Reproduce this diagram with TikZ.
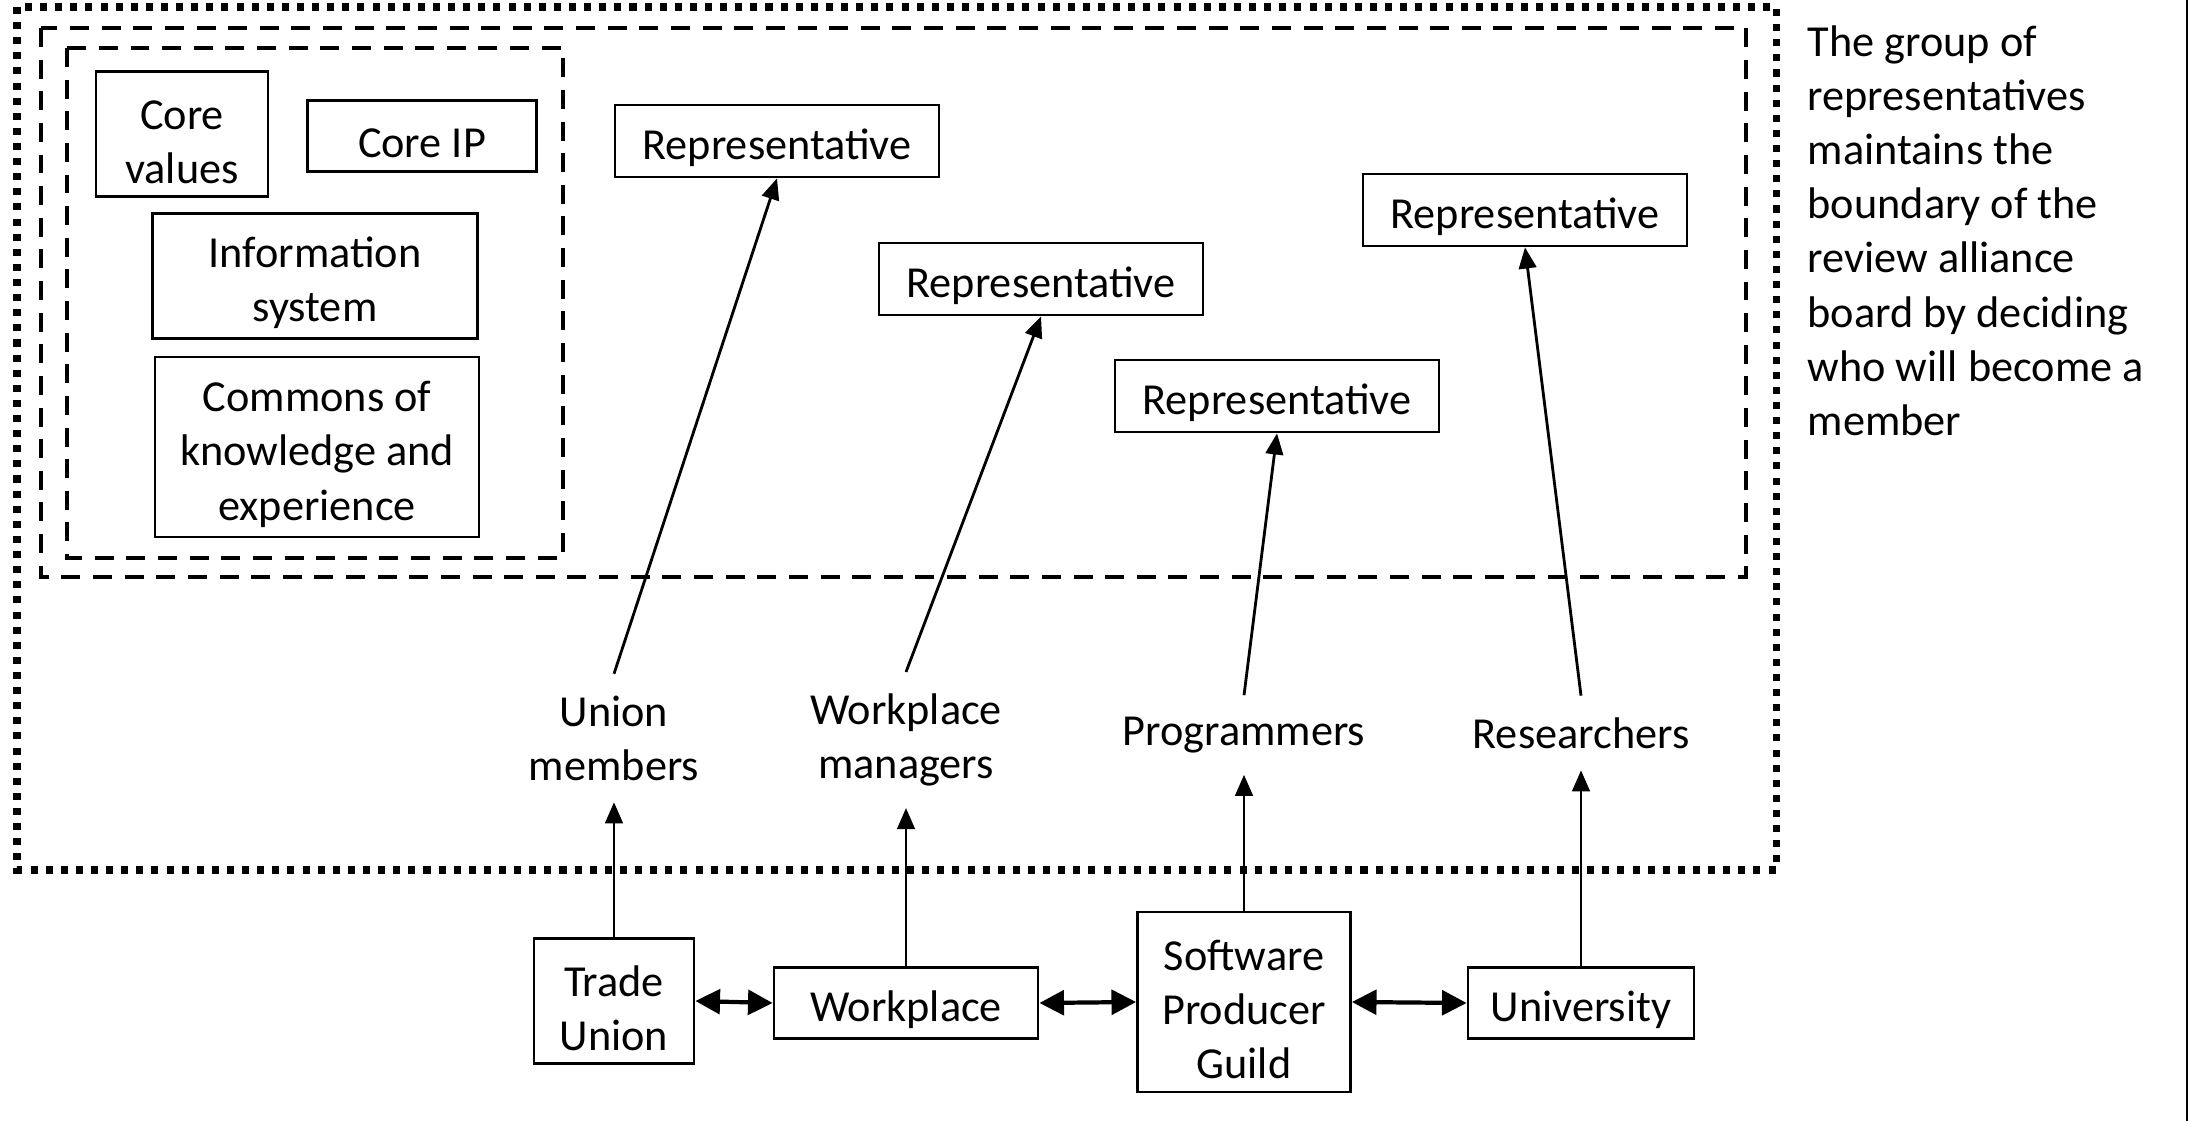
\documentclass[tikz,border=0pt]{standalone}
\usepackage{fontspec}
\setmainfont{Carlito}
\usepackage{tikz}
\usetikzlibrary{arrows.meta}

\begin{document}
\begin{tikzpicture}[
    font=\fontsize{12.6}{15.4}\selectfont,
    box/.style={draw, line width=0.8pt, align=center, inner sep=0pt,
        execute at begin node={\rule{0pt}{#1}}},
    box/.default=12.5pt,
    grp/.style={align=center, inner sep=6pt},
    up/.style={line width=0.8pt, -{Triangle[length=6pt, width=5pt]}},
    link/.style={line width=1.2pt, {Triangle[length=7pt, width=7pt]}-{Triangle[length=7pt, width=7pt]}},
    boardline/.style={line width=2pt, dash pattern=on 2pt off 2.3pt},
    ringline/.style={line width=1.1pt, dash pattern=on 5.4pt off 3.6pt}
]
            \useasboundingbox (0, 0) rectangle (22.03, -11.21);
            \draw[boardline] (0.17, -0.07) rectangle (17.76, -8.70);
            \draw[ringline] (0.41, -0.28) rectangle (17.46, -5.77);
            \draw[ringline] (0.67, -0.48) rectangle (5.63, -5.58);
            \draw[line width=0.8pt] (21.87, 0) -- (21.87, -11.21);
            % shared assets of the board
            \node[box=28.2pt, minimum width=1.72cm, minimum height=1.25cm] (values) at (1.82, -1.34) {Core\\values};
            \node[box, minimum width=2.29cm, minimum height=0.71cm] (coreip) at (4.22, -1.36) {Core IP};
            \node[box=28.2pt, minimum width=3.25cm, minimum height=1.25cm] (infosys) at (3.15, -2.76) {Information\\system};
            \node[box=43.6pt, minimum width=3.24cm, minimum height=1.80cm] (commons) at (3.17, -4.47) {Commons of\\knowledge and\\experience};
            % representatives
            \node[box, minimum width=3.24cm, minimum height=0.72cm] (rep1) at (7.77, -1.41) {Representative};
            \node[box, minimum width=3.24cm, minimum height=0.72cm] (rep2) at (10.41, -2.79) {Representative};
            \node[box, minimum width=3.24cm, minimum height=0.72cm] (rep3) at (12.77, -3.96) {Representative};
            \node[box, minimum width=3.24cm, minimum height=0.72cm] (rep4) at (15.25, -2.10) {Representative};
            % member groups
            \node[grp] (unionm) at (6.14, -7.38) {Union\\members};
            \node[grp] (managers) at (9.06, -7.40) {Workplace\\managers};
            \node[grp] (progs) at (12.44, -7.35) {Programmers};
            \node[grp] (research) at (15.81, -7.33) {Researchers};
            % organisations
            \node[box=28.2pt, minimum width=1.60cm, minimum height=1.25cm] (union) at (6.14, -10.01) {Trade\\Union};
            \node[box, minimum width=2.64cm, minimum height=0.71cm] (work) at (9.06, -10.03) {Workplace};
            \node[box=43.6pt, minimum width=2.13cm, minimum height=1.80cm] (guild) at (12.44, -10.02) {Software\\Producer\\Guild};
            \node[box, minimum width=2.26cm, minimum height=0.71cm] (univ) at (15.81, -10.03) {University};
            \node[anchor=north west, align=left, inner sep=0pt] (note) at (18.07, -0.25) {The group of\\representatives\\maintains the\\boundary of the\\review alliance\\board by deciding\\who will become a\\member};
            \draw[up] (unionm.north) -- (rep1.south);
            \draw[up] (managers.north) -- (rep2.south);
            \draw[up] (progs.north) -- (rep3.south);
            \draw[up] (research.north) -- (rep4.south);
            \draw[up] (union.north) -- (unionm.south);
            \draw[up] (work.north) -- (managers.south);
            \draw[up] (guild.north) -- (progs.south);
            \draw[up] (univ.north) -- (research.south);
            \draw[link] (union.east) -- (work.west);
            \draw[link] (work.east) -- (guild.west);
            \draw[link] (guild.east) -- (univ.west);
        \end{tikzpicture}
\end{document}
